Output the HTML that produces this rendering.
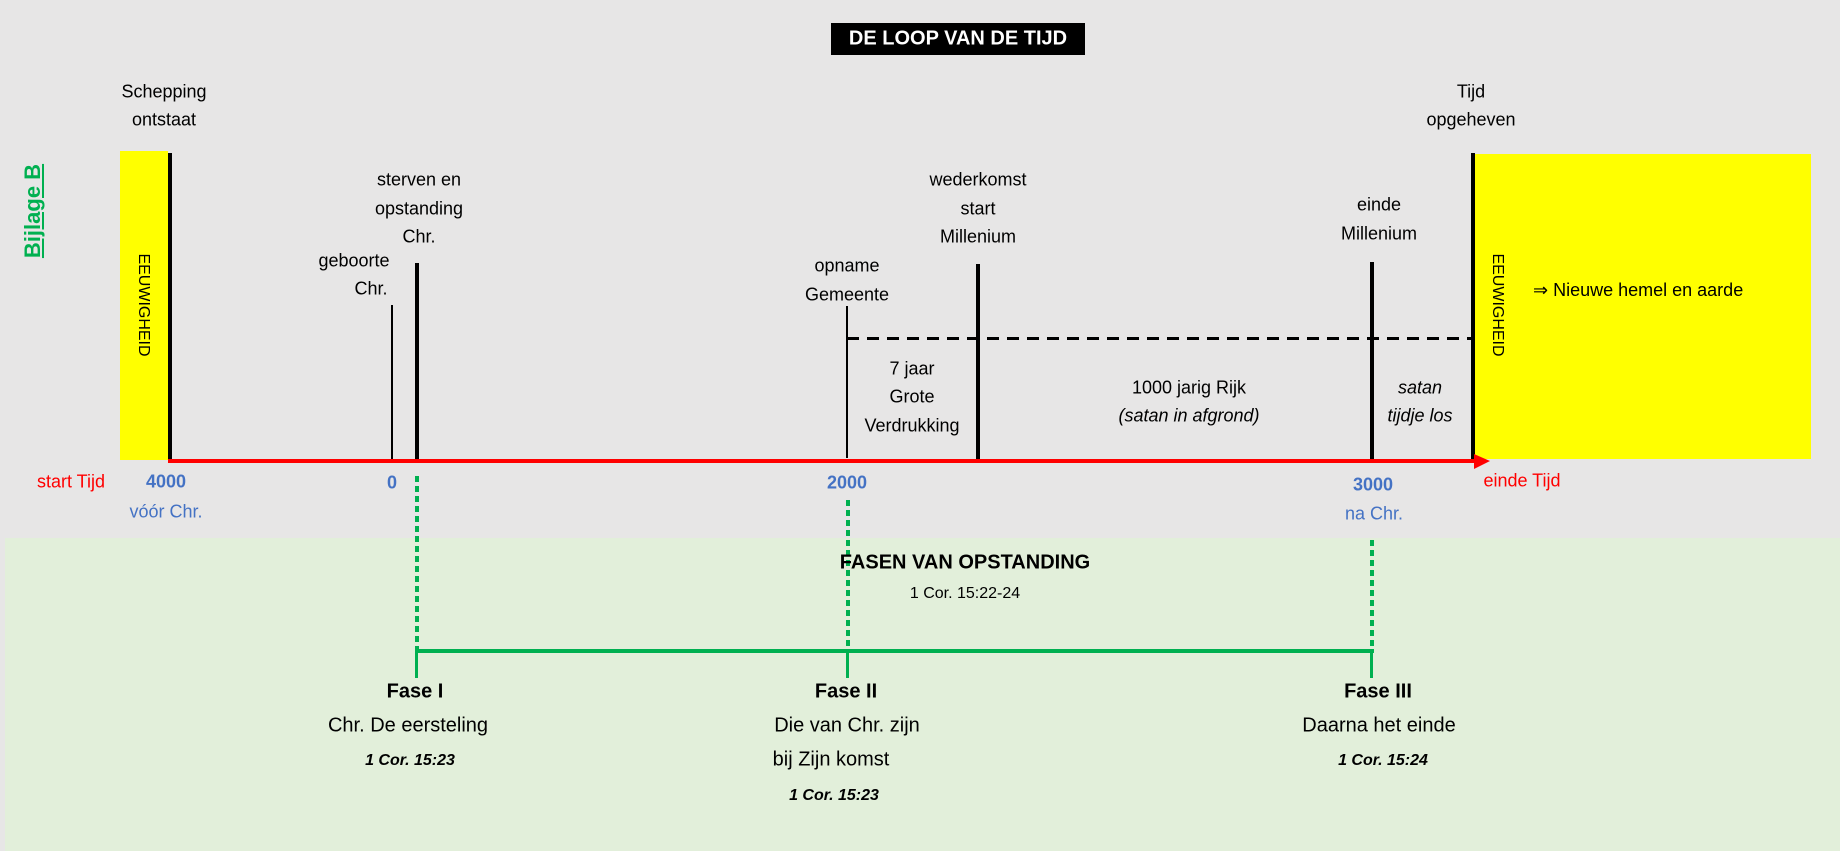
<!DOCTYPE html>
<html><head><meta charset="utf-8"><style>
body{margin:0;width:1840px;height:851px;overflow:hidden;background:#e7e6e6;position:relative;font-family:"Liberation Sans",sans-serif;color:#000}
.a{position:absolute}
.c{position:absolute;transform:translate(-50%,-50%);white-space:nowrap;text-align:center;font-size:18px}
.v{position:absolute;background:#000}
.d{position:absolute;width:4px;background:repeating-linear-gradient(to bottom,#00b050 0 6px,transparent 6px 10px)}
</style></head><body>
<div class="a" style="left:5px;top:538px;width:1835px;height:313px;background:#e2efda"></div>

<div class="a" style="left:831px;top:23px;width:254px;height:32px;background:#000"></div>
<div class="c" style="left:958px;top:39px;color:#fff;font-weight:bold;font-size:20px">DE LOOP VAN DE TIJD</div>

<div class="c" style="left:33px;top:211px;transform:translate(-50%,-50%) rotate(-90deg);color:#00b050;font-weight:bold;font-size:22px;text-decoration:underline">Bijlage B</div>

<div class="a" style="left:120px;top:151px;width:48px;height:309px;background:#ffff00"></div>
<div class="a" style="left:1475px;top:154px;width:336px;height:305px;background:#ffff00"></div>
<div class="c" style="left:143px;top:305px;transform:translate(-50%,-50%) rotate(90deg);font-size:16px">EEUWIGHEID</div>
<div class="c" style="left:1497px;top:305px;transform:translate(-50%,-50%) rotate(90deg);font-size:16px">EEUWIGHEID</div>
<div class="a" style="left:1533px;top:280px;font-size:18px;white-space:nowrap">⇒ Nieuwe hemel en aarde</div>

<div class="v" style="left:168px;top:153px;width:4px;height:308px"></div>
<div class="v" style="left:391px;top:305px;width:2px;height:154px"></div>
<div class="v" style="left:415px;top:263px;width:4px;height:198px"></div>
<div class="v" style="left:846px;top:306px;width:2px;height:152px"></div>
<div class="v" style="left:976px;top:264px;width:4px;height:197px"></div>
<div class="v" style="left:1370px;top:262px;width:4px;height:199px"></div>
<div class="v" style="left:1471px;top:153px;width:4px;height:308px"></div>

<div class="a" style="left:847px;top:337px;width:624px;height:3px;background:repeating-linear-gradient(to right,#000 0 12px,transparent 12px 20px)"></div>

<div class="a" style="left:168px;top:459px;width:1310px;height:4px;background:#ff0000"></div>
<svg class="a" style="left:1474px;top:454px" width="18" height="16"><polygon points="0,0 16,7 0,15" fill="#ff0000"/></svg>

<div class="c" style="left:164px;top:92px">Schepping</div>
<div class="c" style="left:164px;top:120px">ontstaat</div>
<div class="c" style="left:419px;top:180px">sterven en</div>
<div class="c" style="left:419px;top:209px">opstanding</div>
<div class="c" style="left:419px;top:237px">Chr.</div>
<div class="c" style="left:354px;top:261px">geboorte</div>
<div class="c" style="left:371px;top:289px">Chr.</div>
<div class="c" style="left:847px;top:266px">opname</div>
<div class="c" style="left:847px;top:295px">Gemeente</div>
<div class="c" style="left:978px;top:180px">wederkomst</div>
<div class="c" style="left:978px;top:209px">start</div>
<div class="c" style="left:978px;top:237px">Millenium</div>
<div class="c" style="left:1379px;top:205px">einde</div>
<div class="c" style="left:1379px;top:234px">Millenium</div>
<div class="c" style="left:1471px;top:92px">Tijd</div>
<div class="c" style="left:1471px;top:120px">opgeheven</div>

<div class="c" style="left:912px;top:369px">7 jaar</div>
<div class="c" style="left:912px;top:397px">Grote</div>
<div class="c" style="left:912px;top:426px">Verdrukking</div>
<div class="c" style="left:1189px;top:388px">1000 jarig Rijk</div>
<div class="c" style="left:1189px;top:416px;font-style:italic">(satan in afgrond)</div>
<div class="c" style="left:1420px;top:388px;font-style:italic">satan</div>
<div class="c" style="left:1420px;top:416px;font-style:italic">tijdje los</div>

<div class="c" style="left:71px;top:482px;color:#ff0000">start Tijd</div>
<div class="c" style="left:166px;top:482px;color:#4472c4;font-weight:bold">4000</div>
<div class="c" style="left:166px;top:512px;color:#4472c4">vóór Chr.</div>
<div class="c" style="left:392px;top:483px;color:#4472c4;font-weight:bold">0</div>
<div class="c" style="left:847px;top:483px;color:#4472c4;font-weight:bold">2000</div>
<div class="c" style="left:1373px;top:485px;color:#4472c4;font-weight:bold">3000</div>
<div class="c" style="left:1374px;top:514px;color:#4472c4">na Chr.</div>
<div class="c" style="left:1522px;top:481px;color:#ff0000">einde Tijd</div>

<div class="d" style="left:415px;top:476px;height:175px"></div>
<div class="d" style="left:846px;top:500px;height:151px"></div>
<div class="d" style="left:1370px;top:540px;height:111px"></div>
<div class="a" style="left:416px;top:649px;width:958px;height:4px;background:#00b050"></div>
<div class="a" style="left:415px;top:649px;width:3px;height:29px;background:#00b050"></div>
<div class="a" style="left:846px;top:649px;width:3px;height:29px;background:#00b050"></div>
<div class="a" style="left:1370px;top:649px;width:3px;height:29px;background:#00b050"></div>

<div class="c" style="left:965px;top:563px;font-weight:bold;font-size:20px">FASEN VAN OPSTANDING</div>
<div class="c" style="left:965px;top:594px;font-size:16px">1 Cor. 15:22-24</div>

<div class="c" style="left:415px;top:692px;font-weight:bold;font-size:20px">Fase I</div>
<div class="c" style="left:408px;top:726px;font-size:20px">Chr. De eersteling</div>
<div class="c" style="left:410px;top:761px;font-weight:bold;font-style:italic;font-size:16px">1 Cor. 15:23</div>

<div class="c" style="left:846px;top:692px;font-weight:bold;font-size:20px">Fase II</div>
<div class="c" style="left:847px;top:726px;font-size:20px">Die van Chr. zijn</div>
<div class="c" style="left:831px;top:760px;font-size:20px">bij Zijn komst</div>
<div class="c" style="left:834px;top:796px;font-weight:bold;font-style:italic;font-size:16px">1 Cor. 15:23</div>

<div class="c" style="left:1378px;top:692px;font-weight:bold;font-size:20px">Fase III</div>
<div class="c" style="left:1379px;top:726px;font-size:20px">Daarna het einde</div>
<div class="c" style="left:1383px;top:761px;font-weight:bold;font-style:italic;font-size:16px">1 Cor. 15:24</div>
</body></html>
